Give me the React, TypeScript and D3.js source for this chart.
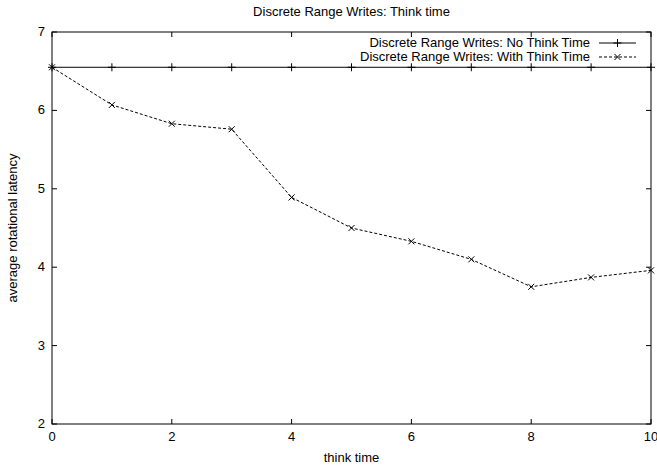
import React, { useEffect, useRef } from 'react';
import * as d3 from 'd3';

const thinkTimes = [0, 1, 2, 3, 4, 5, 6, 7, 8, 9, 10];
const noThinkTime = [6.55, 6.55, 6.55, 6.55, 6.55, 6.55, 6.55, 6.55, 6.55, 6.55, 6.55];
const withThinkTime = [6.55, 6.07, 5.83, 5.76, 4.89, 4.5, 4.33, 4.1, 3.75, 3.87, 3.96];
const xTicks = [0, 2, 4, 6, 8, 10];
const yTicks = [2, 3, 4, 5, 6, 7];
const seriesNames = ['Discrete Range  Writes: No Think Time', 'Discrete Range Writes: With Think Time'];

const W = 657;
const H = 465;
const margin = { top: 32, right: 6, bottom: 41, left: 52 };
const font = 'Liberation Sans, Arial, sans-serif';

const drawChart = (svgEl: SVGSVGElement) => {
	const svg = d3.select(svgEl);
	svg.selectAll('*').remove();
	const x = d3.scaleLinear().domain([0, 10]).range([margin.left, W - margin.right]);
	const y = d3.scaleLinear().domain([2, 7]).range([H - margin.bottom, margin.top]);
	const [x0, x1] = x.range();
	const [y0, y1] = y.range();

	const g = svg.append('g').attr('font-family', font).attr('font-size', 13);

	// ticks on all four sides, gnuplot style
	xTicks.forEach((t) => {
		g.append('line').attr('x1', x(t)).attr('x2', x(t)).attr('y1', y0).attr('y2', y0 - 5)
			.attr('stroke', '#000');
		g.append('line').attr('x1', x(t)).attr('x2', x(t)).attr('y1', y1).attr('y2', y1 + 5)
			.attr('stroke', '#000');
		g.append('text').attr('x', x(t)).attr('y', y0 + 17).attr('text-anchor', 'middle')
			.text(t);
	});
	yTicks.forEach((t) => {
		g.append('line').attr('x1', x0).attr('x2', x0 + 5).attr('y1', y(t)).attr('y2', y(t))
			.attr('stroke', '#000');
		g.append('line').attr('x1', x1).attr('x2', x1 - 5).attr('y1', y(t)).attr('y2', y(t))
			.attr('stroke', '#000');
		g.append('text').attr('x', x0 - 7).attr('y', y(t) + 4).attr('text-anchor', 'end')
			.text(t);
	});

	g.append('rect').attr('x', x0).attr('y', y1).attr('width', x1 - x0).attr('height', y0 - y1)
		.attr('fill', 'none').attr('stroke', '#000');

	const line = d3.line<number>().x((_, i) => x(thinkTimes[i])).y((d) => y(d));

	g.append('path').datum(noThinkTime).attr('d', line).attr('fill', 'none')
		.attr('stroke', '#000');
	g.append('path').datum(withThinkTime).attr('d', line).attr('fill', 'none')
		.attr('stroke', '#000').attr('stroke-dasharray', '3,2');

	const plus = (px: number, py: number) => {
		g.append('path').attr('d', `M${ px - 4 },${ py }H${ px + 4 }M${ px },${ py - 4 }V${ py + 4 }`)
			.attr('stroke', '#000');
	};
	const cross = (px: number, py: number) => {
		g.append('path').attr('d', `M${ px - 3 },${ py - 3 }L${ px + 3 },${ py + 3 }M${ px - 3 },${ py + 3 }L${ px + 3 },${ py - 3 }`)
			.attr('stroke', '#000');
	};
	noThinkTime.forEach((d, i) => plus(x(thinkTimes[i]), y(d)));
	withThinkTime.forEach((d, i) => cross(x(thinkTimes[i]), y(d)));

	// legend
	const lx = 590;
	const ly = [43, 57];
	seriesNames.forEach((name, i) => {
		g.append('text').attr('x', lx).attr('y', ly[i] + 4).attr('text-anchor', 'end').text(name);
		g.append('line').attr('x1', 599).attr('x2', 636).attr('y1', ly[i]).attr('y2', ly[i])
			.attr('stroke', '#000').attr('stroke-dasharray', i ? '3,2' : null);
		if (i) cross(617.5, ly[i]); else plus(617.5, ly[i]);
	});

	g.append('text').attr('x', (x0 + x1) / 2).attr('y', 16).attr('text-anchor', 'middle')
		.text('Discrete Range Writes: Think time');
	g.append('text').attr('x', (x0 + x1) / 2).attr('y', 462).attr('text-anchor', 'middle')
		.text('think time');
	g.append('text').attr('transform', `translate(17,${ (y0 + y1) / 2 }) rotate(-90)`)
		.attr('text-anchor', 'middle').text('average rotational latency');
};

const App = () => {
	const ref = useRef<SVGSVGElement>(null);
	useEffect(() => {
		if (ref.current) drawChart(ref.current);
	});
	return (
		<svg ref={ ref } width={ W } height={ H }
			style={ { position: 'absolute', left: 0, top: 0, background: '#fff' } }/>
	);
};

export default App;
